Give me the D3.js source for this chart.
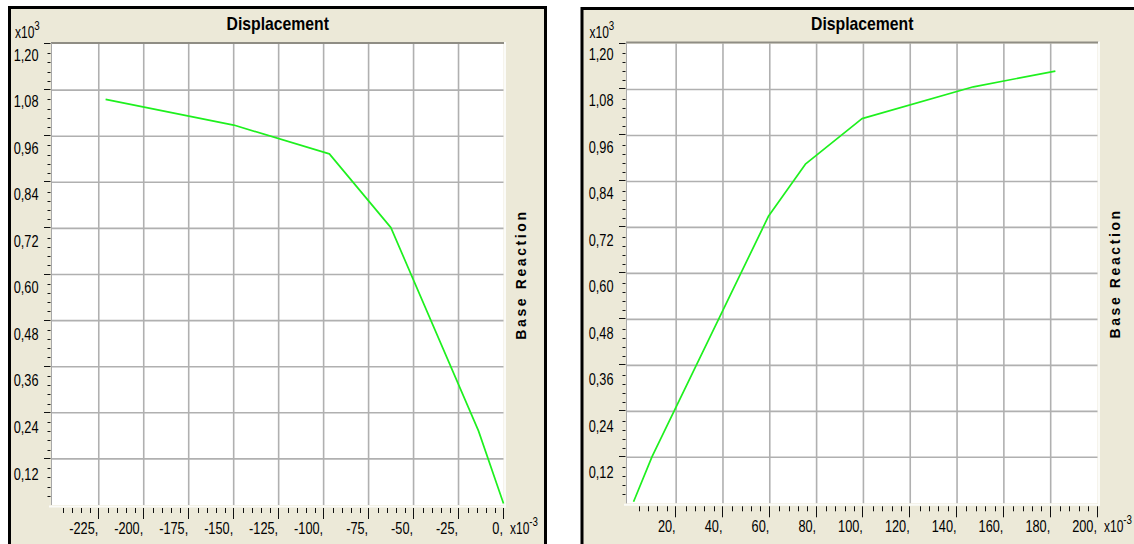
<!DOCTYPE html>
<html><head><meta charset="utf-8">
<script src="https://cdn.jsdelivr.net/npm/d3@7"></script>
<style>html,body{margin:0;padding:0;background:#fff;overflow:hidden;} svg{display:block;}</style>
</head><body>
<script>
// ---- data (displacement x10^-3, base reaction x10^3) ----
const leftDisp   = [-221.2, -150.0, -96.8, -62.6, -13.9, 0.0];
const leftReact  = [1.056, 0.989, 0.914, 0.722, 0.193, 0.004];
const rightDisp  = [1.8, 9.7, 59.5, 75.2, 99.4, 147.0, 182.0];
const rightReact = [0.004, 0.122, 0.750, 0.885, 1.004, 1.087, 1.128];
const leftXTicks  = [-225, -200, -175, -150, -125, -100, -75, -50, -25, 0];
const rightXTicks = [20, 40, 60, 80, 100, 120, 140, 160, 180, 200];
const yTicks = [0.12, 0.24, 0.36, 0.48, 0.60, 0.72, 0.84, 0.96, 1.08, 1.20];
const titleText = "Displacement";
const yAxisTitle = "Base Reaction";

const W = 1134, H = 544;
const BG = "#ECE9D8";
const FONT = "'Liberation Sans', Arial, sans-serif";
const svg = d3.select("body").append("svg").attr("width", W).attr("height", H);

function condensedText(g, x, y, str, opts) {
  const grp = g.append("g").attr("transform", `translate(${x},${y}) scale(${opts.sx || 0.75},1)`);
  const t = grp.append("text")
    .attr("font-family", FONT)
    .attr("font-size", opts.size || 17)
    .attr("font-weight", opts.weight || "normal")
    .attr("fill", "#000")
    .attr("text-anchor", opts.anchor || "start")
    .text(str);
  return t;
}

function drawPanel(cfg) {
  const g = svg.append("g");
  g.append("rect").attr("x", cfg.panel[0]).attr("y", cfg.panel[1])
    .attr("width", cfg.panel[2]).attr("height", cfg.panel[3])
    .attr("fill", BG).attr("stroke", "#000").attr("stroke-width", 3);

  const x = d3.scaleLinear().domain(cfg.xDomain).range(cfg.xRange);
  const y = d3.scaleLinear().domain([0, 1.2]).range(cfg.yRange);
  const x0 = cfg.xRange[0], x1 = cfg.xRange[1], y0 = cfg.yRange[1], y1 = cfg.yRange[0];

  g.append("rect").attr("x", x0).attr("y", y0).attr("width", x1 - x0).attr("height", y1 - y0).attr("fill", "#fff");

  const grid = g.append("g").attr("stroke", "#b0b0b0").attr("stroke-width", 1.6);
  grid.selectAll("line.h").data(yTicks.filter(v => v < 1.19)).enter().append("line")
    .attr("x1", x0).attr("x2", x1).attr("y1", d => y(d)).attr("y2", d => y(d));
  grid.selectAll("line.v").data(cfg.xTicks.filter(v => x(v) < x1 - 3)).enter().append("line")
    .attr("y1", y0).attr("y2", y1).attr("x1", d => x(d)).attr("x2", d => x(d));

  g.append("line").attr("x1", x0 - 1).attr("x2", x1 + 1).attr("y1", y0 - 1).attr("y2", y0 - 1)
    .attr("stroke", "#8f8d84").attr("stroke-width", 2);
  g.append("line").attr("x1", x1 + 1.5).attr("x2", x1 + 1.5).attr("y1", y0 - 2).attr("y2", y1 + 2.5)
    .attr("stroke", "#fbfbf8").attr("stroke-width", 2);
  g.append("line").attr("x1", x0 - 3).attr("x2", x1 + 2.5).attr("y1", y1 + 1.5).attr("y2", y1 + 1.5)
    .attr("stroke", "#fbfbf8").attr("stroke-width", 2);
  g.append("line").attr("x1", x0 - 0.5).attr("x2", x0 - 0.5).attr("y1", y0 - 1).attr("y2", y1)
    .attr("stroke", "#a8a8a8").attr("stroke-width", 1);

  const pts = cfg.xs.map((v, i) => [v, cfg.ys[i]]);
  g.append("path").datum(pts)
    .attr("d", d3.line().x(d => x(d[0])).y(d => y(d[1])))
    .attr("fill", "none").attr("stroke", "#1ef01e").attr("stroke-width", 1.7)
    .attr("stroke-linejoin", "round");

  const ta = g.append("g").attr("stroke", "#111").attr("stroke-width", 1);
  const yMinor = d3.range(0.024, 1.2, 0.024).filter(v => Math.abs(v / 0.12 - Math.round(v / 0.12)) > 0.01);
  ta.selectAll("line.ym").data(yMinor).enter().append("line")
    .attr("x1", x0 - 4.5).attr("x2", x0 - 1.5).attr("y1", d => Math.round(y(d)) + 0.5).attr("y2", d => Math.round(y(d)) + 0.5);
  ta.selectAll("line.yM").data(yTicks).enter().append("line")
    .attr("x1", x0 - 8).attr("x2", x0 - 1.5).attr("y1", d => Math.round(y(d)) - 0.5).attr("y2", d => Math.round(y(d)) - 0.5);

  const step = cfg.xTicks[1] - cfg.xTicks[0];
  const xMinor = d3.range(cfg.xTicks[0] - step, cfg.xTicks[cfg.xTicks.length - 1] + 0.01, step / 5)
    .filter(v => v > cfg.xDomain[0] + 1 && Math.abs(v / step - Math.round(v / step)) > 0.01);
  ta.selectAll("line.xm").data(xMinor).enter().append("line")
    .attr("y1", y1 + 3).attr("y2", y1 + 8).attr("x1", d => Math.round(x(d)) + 0.5).attr("x2", d => Math.round(x(d)) + 0.5);
  ta.selectAll("line.xM").data(cfg.xTicks).enter().append("line")
    .attr("y1", y1 + 3).attr("y2", y1 + 14).attr("x1", d => Math.round(x(d)) - 0.5).attr("x2", d => Math.round(x(d)) - 0.5);

  const fmtY = v => d3.format(".2f")(v).replace(".", ",");
  yTicks.forEach(v => {
    const yy = y(v) + 16.5 + (y(v) - y(1.2)) * 0.01;
    condensedText(g, x0 - 13.5, yy, fmtY(v), { anchor: "end" });
  });
  cfg.xTicks.forEach(v => {
    condensedText(g, x(v) - 0.5, y1 + 28.5, v + ",", { anchor: "end" });
  });
  const t1 = condensedText(g, cfg.expYx, 38, "x10", { size: 16 });
  t1.append("tspan").attr("dy", -8).attr("font-size", 13).text("3");
  const t2 = condensedText(g, x1 + 6.5, y1 + 29, "x10", { size: 16 });
  t2.append("tspan").attr("dy", -8).attr("font-size", 13).text("-3");

  condensedText(g, (x0 + x1) / 2, 29.5, titleText, { anchor: "middle", size: 19, weight: "bold", sx: 0.83 });

  g.append("text")
    .attr("transform", `translate(${x1 + 22},${(y0 + y1) / 2}) rotate(-90)`)
    .attr("font-family", FONT).attr("font-size", 14).attr("font-weight", "bold")
    .attr("letter-spacing", 2.6).attr("fill", "#000").attr("text-anchor", "middle")
    .text(yAxisTitle);
}

drawPanel({
  panel: [9.5, 7.5, 536, 545],
  xDomain: [-251, 0], xRange: [52, 503.5], yRange: [505, 44],
  xTicks: leftXTicks, xs: leftDisp, ys: leftReact, expYx: 15
});
drawPanel({
  panel: [582, 8.5, 560, 545],
  xDomain: [-1, 200], xRange: [627, 1097.5], yRange: [503.3, 43.5],
  xTicks: rightXTicks, xs: rightDisp, ys: rightReact, expYx: 589.5
});
</script>
</body></html>
